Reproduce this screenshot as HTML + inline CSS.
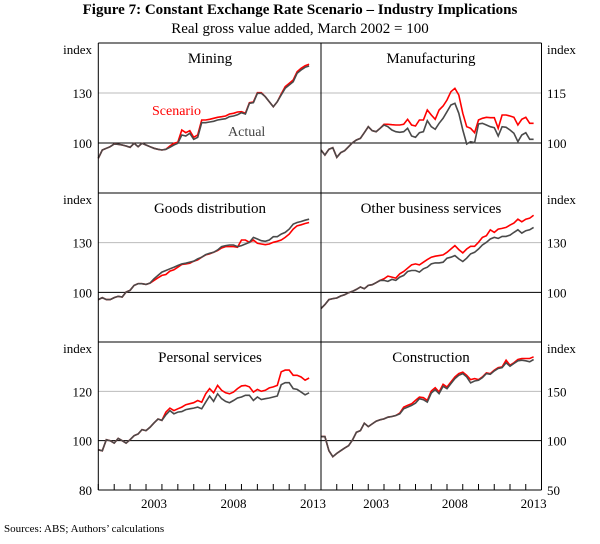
<!DOCTYPE html>
<html><head><meta charset="utf-8"><style>
body{margin:0;background:#fff;}
svg text{font-family:"Liberation Serif",serif;}
</style></head><body>
<svg id="c" width="600" height="539" xmlns="http://www.w3.org/2000/svg">
<text x="300" y="14" text-anchor="middle" font-size="15" font-weight="bold">Figure 7: Constant Exchange Rate Scenario – Industry Implications</text>
<text x="300" y="33" text-anchor="middle" font-size="15">Real gross value added, March 2002 = 100</text>
<text x="4" y="532" font-size="11">Sources:   ABS; Authors’ calculations</text>
<g id="plot"></g>
</svg>
<script>
const years = ["2003","2008","2013"];
const yearPos = [2003,2008,2013];
const miningActual = [90.8,95.8,96.8,97.8,99.4,99.2,98.8,98.2,97.4,99.8,97.8,99.8,98.8,97.8,96.8,96.2,95.8,96.2,97.4,98.8,99.8,104.8,104.2,105.8,102.2,103.4,112.2,112.2,112.6,113,113.8,114.2,114.6,115.8,116.2,117,118.2,117.4,123.8,124.2,129.8,129.8,127.8,124.8,121.8,124.8,128.8,132.8,134.8,136.8,141.8,143.8,145.4,146.2];
const miningScenario = [90.8,95.8,96.8,97.8,99.4,99.2,98.8,98.2,97.4,99.8,97.8,99.8,98.8,97.8,96.8,96.2,95.8,96.2,98.2,99.8,100.4,107.8,106.2,107.4,103.4,104.8,113.8,113.8,114.2,114.8,115.4,115.8,116.2,117.4,117.8,118.6,118.8,117.8,124.2,124.6,130.2,130.2,127.8,124.8,121.8,124.8,129.4,133.8,135.8,137.8,142.8,144.8,146.4,147.2];
const manufActual = [97.9,96.4,98.1,98.6,95.7,97.1,97.7,98.9,100.1,100.9,101.4,103.1,104.9,103.7,103.4,104.4,105.4,104.9,103.9,103.4,103.2,103.4,104.4,102.1,101.7,103.1,103.4,106.7,104.9,104.1,105.9,107.4,109.4,111.4,111.9,108.9,103.9,99.7,100.4,100.1,105.7,105.9,105.4,104.9,104.6,102.1,104.9,104.7,103.9,102.9,100.4,102.4,103.1,101.1,101.1];
const manufScenario = [97.9,96.4,98.1,98.6,95.7,97.1,97.7,98.9,100.1,100.9,101.4,103.1,104.9,103.7,103.4,104.4,105.6,105.6,105.5,105.4,105.4,105.6,107.1,105.4,105.1,106.9,106.9,109.9,108.4,107.1,109.9,111.1,112.9,115.4,116.4,114.4,108.9,104.9,104.4,103.1,106.9,107.4,107.7,107.6,107.6,104.4,108.4,108.4,108.1,107.7,105.4,107.1,107.7,105.9,105.9];
const goodsActual = [95.6,96.8,95.6,95.6,96.8,97.6,97.2,100.2,101.2,104.2,105.2,105.2,104.8,105.6,108.2,110.2,112.2,113.2,114.2,115.2,116.2,117.2,117.6,118.2,118.8,120.2,121.2,122.8,123.6,124.2,125.6,127.6,128.2,128.6,128.6,127.6,128.2,129.2,130.2,133.2,132.2,131.2,130.8,131.6,133.6,133.6,135.2,136.2,138.2,141.2,142.2,142.8,143.6,144.2];
const goodsScenario = [95.6,96.8,95.6,95.6,96.8,97.6,97.2,100.2,101.2,104.2,105.2,105.2,104.8,105.6,107.2,108.8,110.2,110.8,112.8,113.6,115.2,116.8,117.2,117.6,118.8,119.6,121.2,122.6,123.2,124.2,125.2,126.8,127.6,127.6,127.6,127.2,131.6,131.6,130.2,131.6,129.6,129.2,128.8,129.2,130.2,130.8,131.6,133.2,135.2,138.2,140.2,140.8,141.6,142.2];
const obsActual = [90.2,92.6,95.6,96.2,96.6,97.8,98.6,99.8,100.6,101.8,103.2,102.2,104.2,104.6,105.8,107.2,107.2,106.6,107.8,107.2,109.2,110.2,112.6,113.2,113.2,112.2,114.2,115.2,117.2,117.8,117.8,118.2,120.6,121.2,122.2,120.2,118.6,120.6,123.2,124.2,126.2,128.6,130.2,132.2,133.2,132.6,133.8,133.8,134.6,136.2,137.8,135.8,137.2,137.8,139.2];
const obsScenario = [90.2,92.6,95.6,96.2,96.6,97.8,98.6,99.8,100.6,101.8,103.2,102.2,104.2,104.6,105.8,107.2,108.2,109.8,109.2,108.6,111.2,112.6,114.6,116.6,117.2,116.6,118.2,119.8,121.2,121.8,122.2,122.6,124.2,126.2,128.2,125.8,123.8,126.2,127.8,127.8,130.2,133.2,134.2,137.8,136.2,138.2,138.6,139.2,140.6,141.8,144.2,142.6,144.2,144.8,146.6];
const personalActual = [96.3,95.9,100.4,100,99.0,100.9,100,99.0,100.4,102,102.7,104.5,104.1,105.4,107.2,108.8,108.2,110.5,112.2,110.9,111.6,111.8,112.6,112.9,113.2,113.6,112.9,115.6,118.1,115.9,119.0,117.0,115.9,115.4,116.3,117.3,117.7,118.4,118.4,116.3,117.7,116.7,117.0,117.3,117.7,118.1,122.7,123.5,123.5,121.1,120.8,119.7,118.6,119.4];
const personalScenario = [96.3,95.9,100.4,100,99.0,100.9,100,99.0,100.4,102,102.7,104.5,104.1,105.4,107.2,108.8,108.2,111.6,113.2,112.2,112.9,113.6,114.6,115.0,115.4,116.3,115.6,119.0,121.1,119.4,122.4,120.4,119.4,119.0,119.7,121.1,122.2,122.4,121.8,119.7,120.8,120.0,120.4,121.4,121.8,122.4,127.9,128.6,128.6,126.5,126.5,125.8,124.5,125.4];
const constrActual = [104.1,104.1,89.8,83.7,87.1,89.8,92.5,94.9,100.7,108.5,110.2,117.7,114.3,117,119.7,121.1,122.1,123.8,124.5,125.5,127.2,132.3,134,135.7,138.1,142.5,141.5,139.1,148.3,151.7,147.6,155.1,152.7,157.8,162.9,166.3,168,164.6,158.5,160.5,161.2,163.9,168,167.3,170.7,173.1,174.1,178.9,175.5,178.2,180.9,181.6,180.9,179.9,182.3];
const constrScenario = [104.1,104.1,89.8,83.7,87.1,89.8,92.5,94.9,100.7,108.5,110.2,117.7,114.3,117,119.7,121.1,122.1,123.8,124.5,125.5,127.9,134,135.7,137.4,140.8,144.2,143.5,140.8,150.3,153.7,149.3,157.1,154.4,159.5,164.6,168,169.4,166.3,161.9,162.9,161.9,164.6,168.7,168,171.4,174.1,174.8,181.6,176.5,178.9,182.3,183.3,183.3,183.3,185];
const leftTicksTop = [100,130], rightTicksTop = [100,115];
const leftTicksMid = [100,130], rightTicksMid = [100,130];
const leftTicksBot = [80,100,120], rightTicksBot = [50,100,150];

const NS="http://www.w3.org/2000/svg";
const g=document.getElementById('plot');
function mk(tag,attrs,parent){const e=document.createElementNS(NS,tag);for(const k in attrs)e.setAttribute(k,attrs[k]);(parent||g).appendChild(e);return e;}
const X0=98.3, XM=321, X1=541.5;
function xs(col){const a=col?XM:X0,b=col?X1:XM;return t=>a+(t-2000)/14*(b-a);}
function ys(top,bot,vmin,vmax){return v=>bot-(v-vmin)/(vmax-vmin)*(bot-top);}
const rows=[[43,193],[193,342],[342,490]];

function panel(col,row,title,actual,scen,vmin,vmax,grid,name){
  const [top,bot]=rows[row]; const x=xs(col); const y=ys(top,bot,vmin,vmax);
  const pg=mk('g',{});
  
  
  grid.forEach(v=>{
    const l=mk('line',{x1:col?XM:X0,x2:col?X1:XM,y1:y(v),y2:y(v),stroke:v===100?'#000':'#bbb','stroke-width':1},pg);
    
    
  });
  const pts=a=>a.map((v,i)=>x(2000+i*0.25).toFixed(1)+','+y(v).toFixed(1)).join(' ');
  const s=mk('polyline',{points:pts(scen),fill:'none',stroke:'#ff0000','stroke-width':1.6},pg);
  
  
  const a=mk('polyline',{points:pts(actual),fill:'none',stroke:'#4a4a4a','stroke-width':1.6},pg);
  
  
  const t=mk('text',{x:col?431:210,y:top+20,'text-anchor':'middle','font-size':15},pg);
  t.textContent=title;
  
  
}
function axisLabels(row,ticks,vmin,vmax,right){
  const [top,bot]=rows[row]; const y=ys(top,bot,vmin,vmax);
  ticks.forEach(v=>{
    const t=mk('text',{x:right?547:92,y:y(v)+5,'text-anchor':right?'start':'end','font-size':13});
    t.textContent=v;
    
    
  });
  const ix=mk('text',{x:right?547:92,y:top+11,'text-anchor':right?'start':'end','font-size':13});
  ix.textContent='index';
  
  
}
panel(0,0,'Mining',miningActual,miningScenario,70,160,leftTicksTop,'mining');
panel(1,0,'Manufacturing',manufActual,manufScenario,85,130,rightTicksTop,'manufacturing');
panel(0,1,'Goods distribution',goodsActual,goodsScenario,70,160,leftTicksMid,'goods-distribution');
panel(1,1,'Other business services',obsActual,obsScenario,70,160,rightTicksMid,'other-business-services');
panel(0,2,'Personal services',personalActual,personalScenario,80,140,leftTicksBot,'personal-services');
panel(1,2,'Construction',constrActual,constrScenario,50,200,rightTicksBot,'construction');
axisLabels(0,leftTicksTop,70,160,false);axisLabels(0,rightTicksTop,85,130,true);
axisLabels(1,leftTicksMid,70,160,false);axisLabels(1,rightTicksMid,70,160,true);
axisLabels(2,[80].concat(leftTicksBot.slice(1)),80,140,false);axisLabels(2,rightTicksBot,50,200,true);
// frame
[[X0,43,X1,43],[X0,490,X1,490],[X0,43,X0,490],[X1,43,X1,490],[XM,43,XM,490],[X0,193,X1,193],[X0,342,X1,342]].forEach(c=>{
  const l=mk('line',{x1:c[0],y1:c[1],x2:c[2],y2:c[3],stroke:'#000','stroke-width':1});
  
  
});
[0,1].forEach(col=>{
  const x=xs(col);
  for(let yr=2000;yr<=2014;yr++){
    const l=mk('line',{x1:x(yr),x2:x(yr),y1:490,y2:484,stroke:'#000','stroke-width':1});
    
    
  }
  years.forEach((lab,i)=>{
    const t=mk('text',{x:x(yearPos[i]+0.5),y:508,'text-anchor':'middle','font-size':13});
    t.textContent=lab;
    
    
  });
});
const sc=mk('text',{x:152,y:115,fill:'#ff0000','font-size':14});
sc.textContent='Scenario';


const ac=mk('text',{x:228,y:136,fill:'#444','font-size':14});
ac.textContent='Actual';


</script>
</body></html>
